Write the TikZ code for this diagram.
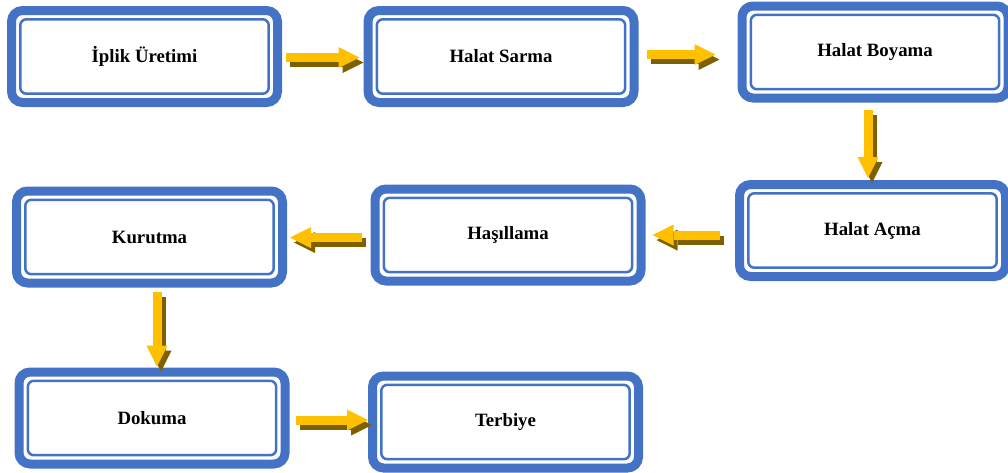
\documentclass[tikz,border=0pt]{standalone}
\usepackage{fontspec}
\setmainfont{Liberation Serif}
\usetikzlibrary{arrows.meta}

\definecolor{boxblue}{HTML}{4472C4}
\definecolor{arrowgold}{HTML}{FFC000}
\definecolor{shadowbrown}{HTML}{7F6000}

\tikzset{
  stage/.style={draw=boxblue, line width=4.5pt, rounded corners=5.5pt, fill=white,
    minimum width=133pt, minimum height=46pt, inner sep=0pt, outer sep=0pt,
    font=\fontsize{9.4}{11}\selectfont\bfseries},
  innerline/.style={draw=boxblue, line width=1.25pt, rounded corners=3pt},
  flow/.style={draw=arrowgold, line width=4.5pt,
    -{Triangle[length=10.5pt, width=10.5pt, line width=0pt]}},
  flowshadow/.style={flow, draw=shadowbrown, transform canvas={shift={(2pt,-2.5pt)}}}
}

\begin{document}
\begin{tikzpicture}[x=0.5pt, y=-0.5pt]
\useasboundingbox (0,0) rectangle (1008,472);

\node[stage] (n1) at (144.5,56.5) {İplik Üretimi};
\node[stage] (n2) at (501,56.5) {Halat Sarma};
\node[stage] (n3) at (875,52) {Halat Boyama};
\node[stage] (n4) at (872.5,230.5) {Halat Açma};
\node[stage] (n5) at (508,235) {Haşıllama};
\node[stage] (n6) at (149.5,237) {Kurutma};
\node[stage] (n7) at (152,418) {Dokuma};
\node[stage] (n8) at (505.5,422) {Terbiye};

% inner thin border
\foreach \n in {n1,n2,n3,n4,n5,n6,n7,n8}
  \draw[innerline] ([xshift=4.4pt,yshift=4.4pt]\n.south west) rectangle ([xshift=-4.4pt,yshift=-4.4pt]\n.north east);

% shadows first, then the arrows
\foreach \s in {flowshadow,flow} {
  \draw[\s, shorten <=4.25pt, shorten >=4.25pt] ([yshift=-0.5pt]n1.east) -- ([yshift=-0.5pt]n1.east -| n2.west);
  \draw[\s, shorten <=6.25pt, shorten >=13.25pt] ([yshift=1pt]n2.east) -- ([yshift=1pt]n2.east -| n3.west);
  \draw[\s, shorten <=5.75pt, shorten >=3.25pt] ([xshift=-3.5pt]n3.south) -- ([xshift=-3.5pt]n3.south |- n4.north);
  \draw[\s, shorten <=9.75pt, shorten >=5.75pt] ([yshift=-2.25pt]n4.west) -- ([yshift=-2.25pt]n4.west -| n5.east);
  \draw[\s, shorten <=6.75pt, shorten >=3.75pt] ([yshift=-1.25pt]n5.west) -- ([yshift=-1.25pt]n5.west -| n6.east);
  \draw[\s, shorten <=4.25pt, shorten >=2.75pt] ([xshift=3.75pt]n6.south) -- ([xshift=3.75pt]n6.south |- n7.north);
  \draw[\s, shorten <=5.25pt, shorten >=2.25pt] ([yshift=-1pt]n7.east) -- ([yshift=-1pt]n7.east -| n8.west);
}
\end{tikzpicture}
\end{document}
